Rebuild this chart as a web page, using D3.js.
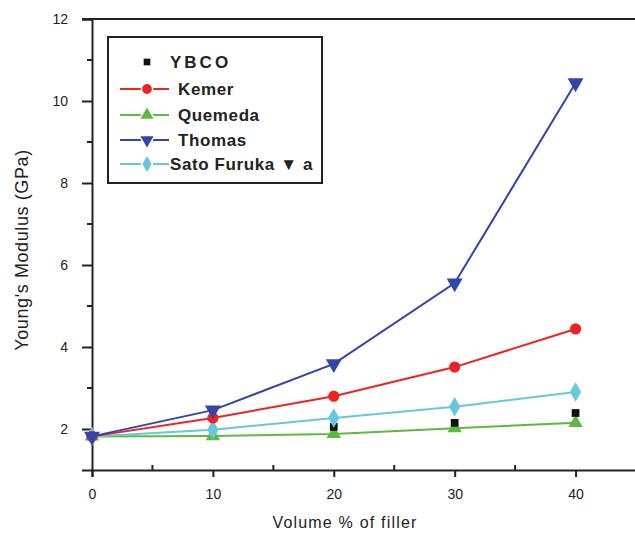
<!DOCTYPE html>
<html>
<head>
<meta charset="utf-8">
<script src="https://cdn.jsdelivr.net/npm/d3@7"></script>
<style>
  body { margin: 0; background: #fff; }
  text { font-family: "Liberation Sans", Arial, sans-serif; fill: #222; }
</style>
</head>
<body>
<div id="box"></div>
<script>
// filler volume % for each series
const xYbco = [20, 30, 40];
const ybco = [2.05, 2.15, 2.39];
const xAll = [0, 10, 20, 30, 40];
const kemer = [1.82, 2.27, 2.8, 3.51, 4.44];
const quemeda = [1.82, 1.83, 1.88, 2.02, 2.15];
const thomas = [1.82, 2.46, 3.59, 5.56, 10.44];
const sato = [1.82, 1.98, 2.27, 2.54, 2.9];

const xTicks = [0, 10, 20, 30, 40];
const xMinor = [5, 15, 25, 35, 45];
const yTicks = [2, 4, 6, 8, 10, 12];
const yMinor = [3, 5, 7, 9, 11];
const legendNames = ['YBCO', 'Kemer', 'Quemeda', 'Thomas', 'Sato Furuka'];

const width = 635, height = 535;
const svg = d3.select('#box').append('svg')
  .attr('width', width)
  .attr('height', height);

const xScale = d3.scaleLinear().domain([0, 45]).range([92, 636]);
const yScale = d3.scaleLinear().domain([1, 12]).range([470, 19]);

// top frame line
svg.append('line')
  .attr('x1', 82).attr('x2', 635)
  .attr('y1', yScale(12)).attr('y2', yScale(12))
  .attr('stroke', '#222').attr('stroke-width', 2);

// y axis
const yAxis = svg.append('g').attr('transform', `translate(${xScale(0)},0)`)
  .call(d3.axisLeft(yScale).tickValues(yTicks).tickSize(10).tickPadding(14));
yAxis.append('g').selectAll('line').data(yMinor).enter().append('line')
  .attr('x1', -5).attr('x2', 0)
  .attr('y1', d => yScale(d)).attr('y2', d => yScale(d));

// x axis
const xAxis = svg.append('g').attr('transform', `translate(0,${yScale(1)})`)
  .call(d3.axisBottom(xScale).tickValues(xTicks).tickSize(7).tickPadding(12));
xAxis.append('g').selectAll('line').data(xMinor).enter().append('line')
  .attr('y1', 0).attr('y2', -5)
  .attr('x1', d => xScale(d)).attr('x2', d => xScale(d));

svg.selectAll('.domain').attr('stroke', '#222').attr('stroke-width', 2);
svg.selectAll('g line').attr('stroke', '#222').attr('stroke-width', 2);
svg.selectAll('.tick text')
  .style('font-family', '"Liberation Sans", Arial, sans-serif')
  .style('font-size', '14px').attr('fill', '#222');

// axis titles
svg.append('text')
  .text("Young's Modulus  (GPa)")
  .attr('transform', 'translate(28,250) rotate(-90)')
  .attr('text-anchor', 'middle')
  .style('font-size', '18px')
  .style('letter-spacing', '0.6px');

svg.append('text')
  .text('Volume  % of  filler')
  .attr('x', 345).attr('y', 528)
  .attr('text-anchor', 'middle')
  .style('font-size', '16px')
  .style('letter-spacing', '1.2px');

const sym = {
  square: d3.symbolSquare,
  circle: d3.symbolCircle,
  triUp: d3.symbolTriangle,
  diamond: d3.symbolDiamond
};

function drawSeries(xs, ys, color, shape, size, down, withLine) {
  const pts = xs.map((x, i) => [xScale(x), yScale(ys[i])]);
  if (withLine) {
    svg.append('path')
      .attr('d', d3.line()(pts))
      .attr('fill', 'none')
      .attr('stroke', color)
      .attr('stroke-width', 2);
  }
  svg.append('g').selectAll('path').data(pts).enter().append('path')
    .attr('d', d3.symbol().type(shape).size(size))
    .attr('transform', d => `translate(${d[0]},${d[1]})` + (down ? ' rotate(180)' : ''))
    .attr('fill', color);
}

const colors = ['#111', '#ee2222', '#5fb844', '#3344aa', '#66c8dc'];

drawSeries(xAll, quemeda, colors[2], sym.triUp, 90, false, true);
drawSeries(xYbco, ybco, colors[0], sym.square, 60, false, false);
drawSeries(xAll, sato, colors[4], sym.diamond, 110, false, true);
drawSeries(xAll, kemer, colors[1], sym.circle, 100, false, true);
drawSeries(xAll, thomas, colors[3], sym.triUp, 110, true, true);

// legend
const lg = svg.append('g');
lg.append('rect')
  .attr('x', 108).attr('y', 37).attr('width', 214).attr('height', 146)
  .attr('fill', '#fff').attr('stroke', '#222').attr('stroke-width', 2);

const legendShapes = [sym.square, sym.circle, sym.triUp, sym.triUp, sym.diamond];
const legendY = [62, 89, 115, 140, 164];
const legendTextX = [170, 178, 178, 178, 170];
legendNames.forEach((name, i) => {
  const y = legendY[i];
  if (i > 0) {
    lg.append('line').attr('x1', 120).attr('x2', 169).attr('y1', y).attr('y2', y)
      .attr('stroke', colors[i]).attr('stroke-width', 2);
  }
  lg.append('path')
    .attr('d', d3.symbol().type(legendShapes[i]).size(i === 0 ? 45 : 75))
    .attr('transform', `translate(147,${y})` + (i === 3 ? ' rotate(180)' : ''))
    .attr('fill', colors[i])
    .attr('stroke', '#fff').attr('stroke-width', 3)
    .attr('paint-order', 'stroke');
  const t = lg.append('text')
    .attr('x', legendTextX[i]).attr('y', y + 6)
    .style('font-size', '17px').style('font-weight', 'bold')
    .style('letter-spacing', i === 0 ? '3px' : '0.6px')
    .attr('fill', '#333')
    .text(name);
  if (i === 4) {
    // smudged letter in the original legend
    t.append('tspan').text(' \u25BC a');
  }
});
</script>
</body>
</html>
